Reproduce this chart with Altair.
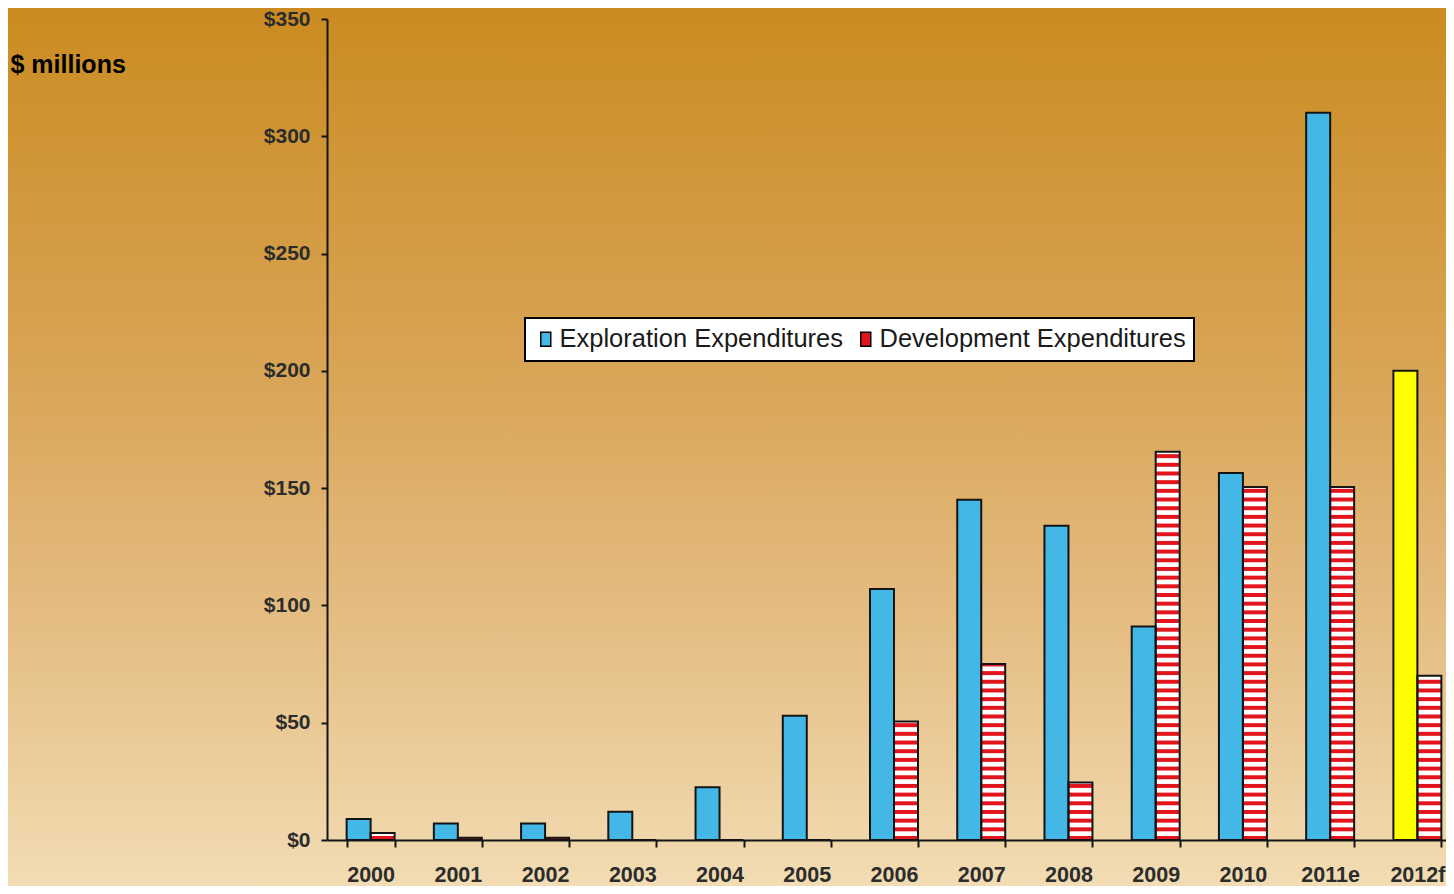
import altair as alt
import pandas as pd

# ---- data ----
years = ["2000", "2001", "2002", "2003", "2004", "2005", "2006",
         "2007", "2008", "2009", "2010", "2011e", "2012f"]
exploration = [9, 7, 7, 12, 22.5, 53, 107, 145, 134, 91, 156.5, 310, 200]
development = [3, 1, 1, 0, 0, 0, 50.5, 75, 24.5, 165.5, 150.5, 150.5, 70]
series_names = ["Exploration Expenditures", "Development Expenditures"]
forecast_years = ["2012f"]
y_ticks = [0, 50, 100, 150, 200, 250, 300, 350]

rows = []
for i, yr in enumerate(years):
    rows.append({"year": yr, "series": series_names[0], "value": exploration[i]})
    rows.append({"year": yr, "series": series_names[1], "value": development[i]})
df = pd.DataFrame(rows)

# ---- styles ----
FONT = "Liberation Sans, Arial, sans-serif"
BLUE = "#43B8E6"
RED = "#E2141C"
YELLOW = "#FFFF00"
INK = "#141414"
LABEL = "#2c2c2c"
STRIPE_PERIOD = 3.7   # in data units ($M)
STRIPE_RED = 1.7

TOP = 11
W, H = 1119, 821   # plot area; svg = 319 + 1119 = 1438 wide

x_enc = alt.X(
    "year:N", sort=years,
    scale=alt.Scale(domain=years, range=[0, 1134], paddingInner=0.45, paddingOuter=0.225),
    axis=alt.Axis(title=None, tickBand="extent", labelAngle=0, labelFont=FONT,
                  labelFontSize=21.5, labelFontWeight="bold", labelColor=LABEL,
                  labelPadding=17, tickSize=7, tickWidth=2, tickColor=INK,
                  domainColor=INK, domainWidth=2, grid=False, zindex=1),
)
xo_enc = alt.XOffset("series:N", sort=series_names, scale=alt.Scale(domain=series_names))
y_scale = alt.Scale(domain=[0, 350], nice=False, zero=True)
y_axis = alt.Axis(values=y_ticks, format="$.0f", title="$ millions", titleAngle=0,
                  titleX=-317, titleY=64 - 8 - TOP, titleAlign="left", titleBaseline="middle",
                  titleFont=FONT, titleFontSize=25, titleFontWeight="bold", titleColor="black",
                  labelFont=FONT, labelFontSize=21, labelFontWeight="bold", labelColor=LABEL,
                  labelPadding=11, tickSize=6, tickWidth=2, tickColor=INK,
                  domainColor=INK, domainWidth=2, grid=False, zindex=1)

# background gradient panel
bg = alt.Chart(alt.Data(values=[{"k": 0}])).mark_rect(
    fill=alt.Gradient(
        gradient="linear", x1=0, x2=0, y1=0, y2=1,
        stops=[alt.GradientStop(offset=0, color="#CB8B21"),
               alt.GradientStop(offset=0.4, color="#D8A455"),
               alt.GradientStop(offset=0.72, color="#E6C088"),
               alt.GradientStop(offset=1, color="#F3DEB6")],
    )
).encode(x=alt.value(-319), x2=alt.value(W + 20), y=alt.value(-TOP), y2=alt.value(H + 60))

base = alt.Chart(df)

fill_enc = alt.Fill(
    "series:N",
    scale=alt.Scale(domain=series_names, range=[BLUE, RED]),
    legend=alt.Legend(title=None, orient="none", legendX=198, legendY=318 - 8 - TOP,
                      direction="horizontal", fillColor="white", strokeColor="black",
                      padding=8, symbolType="M-1,-1.4H1V1.4H-1Z", symbolSize=100,
                      symbolStrokeColor="black", symbolStrokeWidth=1.5, symbolOpacity=1,
                      labelFont=FONT, labelFontSize=25.5, labelColor="#1a1a1a",
                      labelOffset=1, labelLimit=500, columnPadding=9, zindex=1),
    condition=[
        {"test": "datum.series === '%s' && indexof(%s, datum.year) >= 0"
                 % (series_names[0], str(forecast_years)), "value": YELLOW},
        {"test": "datum.series === '%s'" % series_names[1], "value": "#FFFFFF"},
    ],
)

bars = base.mark_bar(strokeWidth=0).encode(
    x=x_enc, xOffset=xo_enc,
    y=alt.Y("value:Q", scale=y_scale, axis=y_axis),
    fill=fill_enc,
)

stripes = base.transform_filter(
    alt.datum.series == series_names[1]
).transform_calculate(
    s0="sequence(0, datum.value, %s)" % STRIPE_PERIOD
).transform_flatten(["s0"]).transform_calculate(
    s1="min(datum.s0 + %s, datum.value)" % STRIPE_RED
).mark_bar(fill=RED, strokeWidth=0).encode(
    x=x_enc, xOffset=xo_enc,
    y=alt.Y("s0:Q", scale=y_scale, axis=y_axis),
    y2="s1:Q",
)

outline = base.mark_bar(fillOpacity=0, stroke=INK, strokeWidth=2).encode(
    x=x_enc, xOffset=xo_enc,
    y=alt.Y("value:Q", scale=y_scale, axis=y_axis),
)

chart = alt.layer(bg, bars, stripes, outline).properties(
    width=W, height=H,
    autosize=alt.AutoSizeParams(type="none"),
    padding={"left": 319, "top": TOP, "right": 0, "bottom": 46},
    background="#F3DEB6",
).configure_view(stroke=None).configure_legend(strokeWidth=2)

chart.save("out.html", embed_options={"renderer": "svg", "actions": False})
